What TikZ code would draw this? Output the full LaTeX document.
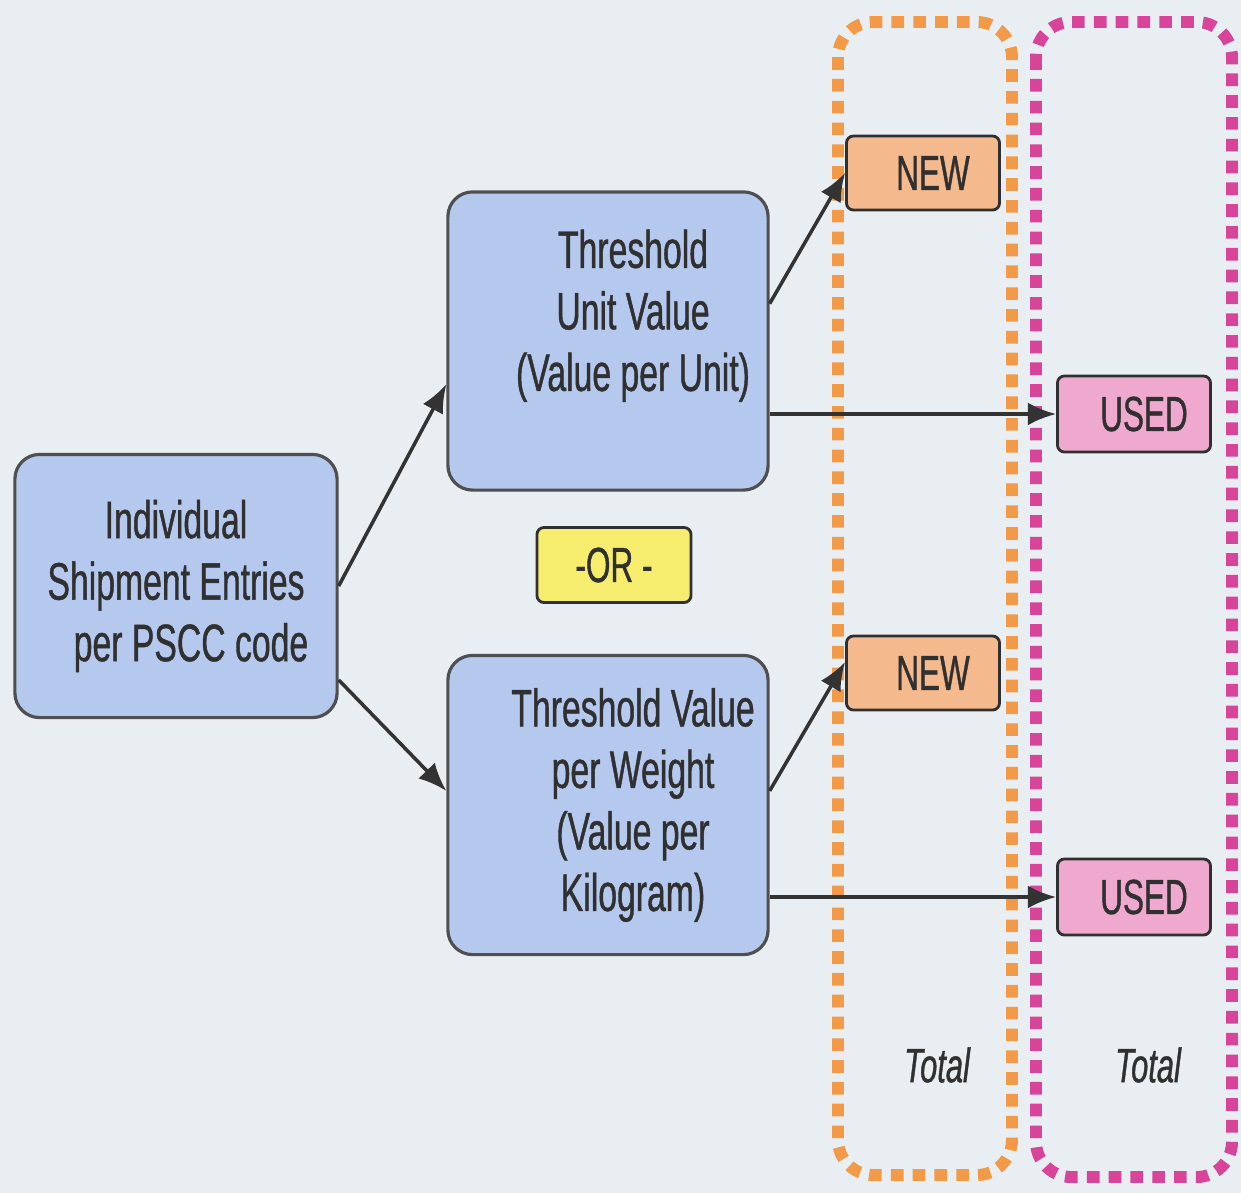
\documentclass[tikz,border=0pt]{standalone}
\usepackage{fontspec}
\setmainfont{Liberation Sans}
\newfontfamily\narrowfont{Liberation Sans}[FakeStretch=0.64,FakeBold=0.8]
\usetikzlibrary{arrows.meta}
\definecolor{bgPage}{HTML}{E8EEF1}
\definecolor{boxBlue}{HTML}{B5C9EE}
\definecolor{tagNew}{HTML}{F4B98C}
\definecolor{tagUsed}{HTML}{EFA9CF}
\definecolor{orFill}{HTML}{F6EC6E}
\definecolor{dashOrange}{HTML}{F29A48}
\definecolor{dashMagenta}{HTML}{D8449A}
\definecolor{inkGray}{HTML}{303030}
\newcommand{\padln}{\hspace*{5mm}}
\tikzset{
  stepbox/.style={draw=inkGray!85, line width=0.9pt, rounded corners=7pt, fill=boxBlue,
    align=center, text=inkGray, font=\narrowfont\fontsize{15}{17.5}\selectfont},
  tagbox/.style={draw=inkGray, line width=0.8pt, rounded corners=2pt, minimum width=1.53cm,
    minimum height=0.74cm, text=inkGray, font=\narrowfont\fontsize{14}{15}\selectfont},
  groupline/.style={line width=3.4pt, dash pattern=on 3.6pt off 2.6pt, rounded corners=10pt},
  link/.style={-{Latex[length=8pt,width=6.5pt]}, line width=1pt, draw=black!80},
}
\begin{document}
\begin{tikzpicture}[x=0.01cm, y=-0.01cm]
\fill[bgPage] (0,0) rectangle (1241,1193);
\useasboundingbox (0,0) rectangle (1241,1193);
% dotted groups
\draw[groupline, dashOrange] (838,22) rectangle (1012,1175);
\draw[groupline, dashMagenta] (1036,22) rectangle (1232,1177);
% boxes
\node[stepbox, minimum width=3.22cm, minimum height=2.63cm] (ship) at (176,586)
  {Individual\\Shipment Entries\\\hspace*{3mm}per PSCC code};
\node[stepbox, minimum width=3.2cm, minimum height=2.98cm] (unit) at (608,341)
  {\padln Threshold\\\padln Unit Value\\\padln(Value per Unit)\\\mbox{}};
\node[stepbox, minimum width=3.2cm, minimum height=2.99cm] (weight) at (608,805)
  {\padln Threshold Value\\\padln per Weight\\\padln(Value per\\\padln Kilogram)};
\node[tagbox, fill=orFill, minimum width=1.54cm, minimum height=0.75cm] (orTag) at (614,565) {-OR -};
\node[tagbox, fill=tagNew] (new1) at (923,173) {\hspace{0.2cm}NEW};
\node[tagbox, fill=tagNew] (new2) at (923,673) {\hspace{0.2cm}NEW};
\node[tagbox, fill=tagUsed, minimum height=0.76cm] (used1) at (1134,414) {\hspace{0.2cm}USED};
\node[tagbox, fill=tagUsed, minimum height=0.76cm] (used2) at (1134,897) {\hspace{0.2cm}USED};
\node[text=inkGray, font=\narrowfont\itshape\fontsize{13.7}{15}\selectfont] (totNew) at (937,1065) {Total};
\node[text=inkGray, font=\narrowfont\itshape\fontsize{13.7}{15}\selectfont] (totUsed) at (1148,1065) {Total};
% arrows
\draw[link] (ship.east) -- (unit.195);
\draw[link] (ship.-30) -- (weight.175);
\draw[link] (unit.13) -- (new1.west);
\draw[link] (unit.east |- used1) -- (used1.west);
\draw[link] (weight.5) -- (new2.172);
\draw[link] (weight.east |- used2) -- (used2.west);
\end{tikzpicture}
\end{document}
